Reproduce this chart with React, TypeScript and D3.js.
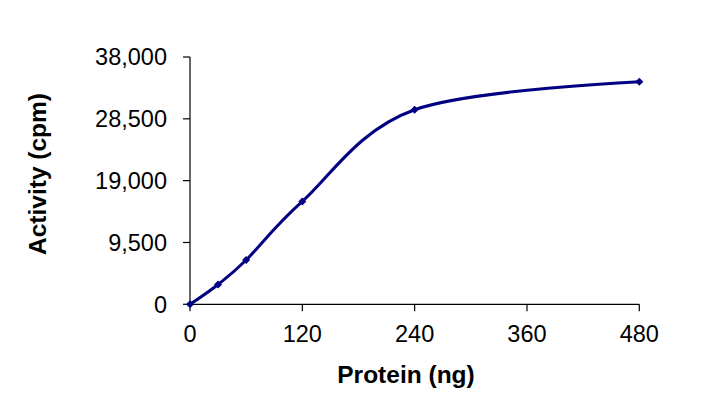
import React from "react";
import * as d3 from "d3";

const protein = [0, 30, 60, 120, 240, 480];
const activity = [0, 3050, 6800, 15800, 29900, 34200];
const xTicks = [0, 120, 240, 360, 480];
const yTicks = [0, 9500, 19000, 28500, 38000];

export default function App() {
  const W = 702, H = 412;
  const x = d3.scaleLinear().domain([0, 480]).range([190, 639.3]);
  const y = d3.scaleLinear().domain([0, 38000]).range([304.3, 57]);
  const pts = protein.map((p, i) => [x(p), y(activity[i])] as [number, number]);
  const line = d3.line().curve(d3.curveCardinal.tension(0))(pts) || "";
  const fmt = d3.format(",");
  const font = "'Liberation Sans', Arial, sans-serif";
  const x0 = x(0), y0 = y(0);
  return (
    <svg width={W} height={H} style={{ position: "absolute", left: 0, top: 0, background: "#fff" }} fontFamily={font}>
      <rect x={0} y={0} width={W} height={H} fill="#fff" />
      {/* y axis */}
      <line x1={x0} x2={x0} y1={y(38000)} y2={y0} stroke="#000" strokeWidth={1.2} />
      {yTicks.map((t) => (
        <g key={"y" + t}>
          <line x1={x0 - 7} x2={x0} y1={y(t)} y2={y(t)} stroke="#000" strokeWidth={1.2} />
          <text x={167} y={y(t)} dy="0.36em" textAnchor="end" fontSize={23.5} fill="#000">
            {fmt(t)}
          </text>
        </g>
      ))}
      {/* x axis */}
      <line x1={x0} x2={x(480)} y1={y0} y2={y0} stroke="#000" strokeWidth={1.2} />
      {xTicks.map((t) => (
        <g key={"x" + t}>
          <line x1={x(t)} x2={x(t)} y1={y0} y2={y0 + 7} stroke="#000" strokeWidth={1.2} />
          <text x={x(t)} y={341.5} textAnchor="middle" fontSize={23.5} fill="#000">
            {t}
          </text>
        </g>
      ))}
      <text x={406} y={383} textAnchor="middle" fontSize={24.5} fontWeight="bold" fill="#000">
        Protein (ng)
      </text>
      <text
        transform={`translate(45.5,174) rotate(-90)`}
        textAnchor="middle"
        fontSize={24.5}
        fontWeight="bold"
        fill="#000"
      >
        Activity (cpm)
      </text>
      <path d={line} fill="none" stroke="#000080" strokeWidth={3} />
      {pts.map(([px, py], i) => (
        <path key={i} d={`M${px},${py - 4}L${px + 4},${py}L${px},${py + 4}L${px - 4},${py}Z`} fill="#000080" />
      ))}
    </svg>
  );
}
